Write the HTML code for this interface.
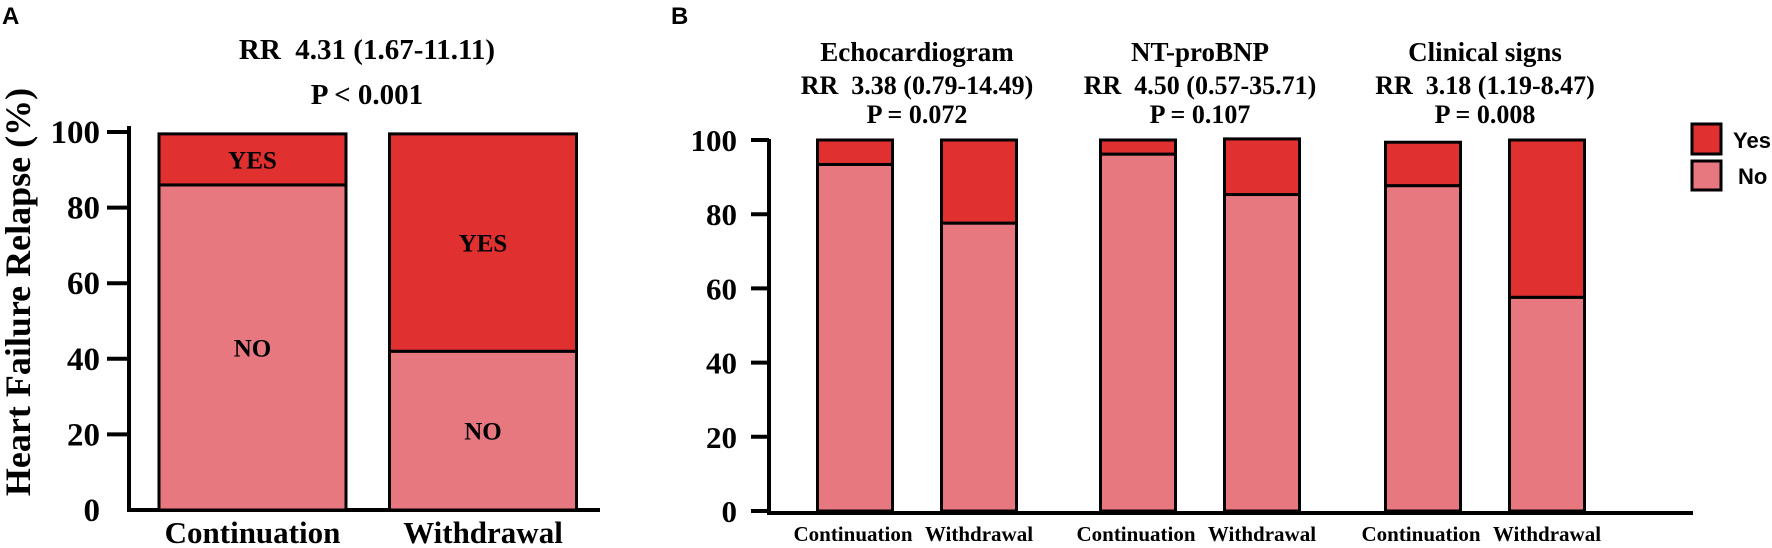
<!DOCTYPE html>
<html><head><meta charset="utf-8">
<style>
html,body{margin:0;padding:0;background:#fff;}
svg{display:block;}
.serif{font-family:"Liberation Serif",serif;font-weight:bold;fill:#000;white-space:pre;}
.sans{font-family:"Liberation Sans",sans-serif;font-weight:bold;fill:#000;}
</style></head>
<body>
<svg id="chart" width="1772" height="548" viewBox="0 0 1772 548">
<text class="sans" x="2" y="24" font-size="24">A</text>
<text class="sans" x="671" y="24" font-size="24">B</text>
<text class="serif" x="367" y="59" font-size="29" text-anchor="middle" xml:space="preserve">RR  4.31 (1.67-11.11)</text>
<text class="serif" x="367" y="104" font-size="29" text-anchor="middle">P &lt; 0.001</text>
<text class="serif" font-size="36" text-anchor="middle" transform="translate(30,292) rotate(-90)">Heart Failure Relapse (%)</text>
<g id="gA"></g>
<g id="gB"></g>
<g>
<rect x="1692" y="124" width="29" height="30" fill="#e03030" stroke="#000" stroke-width="3"/>
<text class="sans" x="1733" y="148" font-size="22">Yes</text>
<rect x="1692" y="161" width="29" height="29" fill="#e87880" stroke="#000" stroke-width="3"/>
<text class="sans" x="1738" y="184" font-size="22">No</text>
</g>
</svg>
<script>
// Panel A data
const aCategories = ["Continuation","Withdrawal"];
const aNo = [86, 42];
const aYes = [13.5, 57.5];
// Panel B data
const bGroups = ["Echocardiogram","NT-proBNP","Clinical signs"];
const bRR = ["RR  3.38 (0.79-14.49)","RR  4.50 (0.57-35.71)","RR  3.18 (1.19-8.47)"];
const bP = ["P = 0.072","P = 0.107","P = 0.008"];
const bCategories = ["Continuation","Withdrawal"];
const bNo = [93.4, 77.6, 96.2, 85.3, 87.7, 57.6];
const bYes = [6.6, 22.4, 3.8, 15.0, 11.7, 42.4];
const yTicks = [0,20,40,60,80,100];

const NS="http://www.w3.org/2000/svg";
const RED="#e03030", PINK="#e87880";
function mk(parent,tag,attrs,text){
  const e=document.createElementNS(NS,tag);
  for(const k in attrs) e.setAttribute(k,attrs[k]);
  if(text!==undefined) e.textContent=text;
  parent.appendChild(e); return e;
}
// ---- Panel A ----
const gA=document.getElementById('gA');
const aY0=510, aY100=132;
const ayA=v=>aY0-(aY0-aY100)*v/100;
const aCenters=[252.5,483];
const aW=187;
let ax=mk(gA,'line',{x1:129,y1:ayA(100)-6,x2:129,y2:aY0,stroke:'#000','stroke-width':4});


let axx=mk(gA,'line',{x1:127,y1:aY0,x2:600,y2:aY0,stroke:'#000','stroke-width':4});


yTicks.forEach(t=>{
  if(t>0){const tk=mk(gA,'line',{x1:107,y1:ayA(t),x2:129,y2:ayA(t),stroke:'#000','stroke-width':4});
  
  }
  const lb=mk(gA,'text',{class:'serif',x:100,y:ayA(t)+11,'font-size':33,'text-anchor':'end'},String(t));
  
  
});
aCategories.forEach((c,i)=>{
  const cx=aCenters[i], x=cx-aW/2;
  const yDiv=ayA(aNo[i]), yTop=ayA(aNo[i]+aYes[i]);
  const rn=mk(gA,'rect',{x:x,y:yDiv,width:aW,height:aY0-yDiv,fill:PINK,stroke:'#000','stroke-width':3});
  
  
  const ry=mk(gA,'rect',{x:x,y:yTop,width:aW,height:yDiv-yTop,fill:RED,stroke:'#000','stroke-width':3});
  
  
  const ty=mk(gA,'text',{class:'serif',x:cx,y:(yTop+yDiv)/2+9,'font-size':25,'text-anchor':'middle'},'YES');
  
  
  const tn=mk(gA,'text',{class:'serif',x:cx,y:(yDiv+aY0)/2+9,'font-size':25,'text-anchor':'middle'},'NO');
  
  
  const xl=mk(gA,'text',{class:'serif',x:cx,y:543,'font-size':31,'text-anchor':'middle'},c);
  
  
});
// ---- Panel B ----
const gB=document.getElementById('gB');
const bY0=511, bY100=140;
const ayB=v=>bY0-(bY0-bY100)*v/100;
const groupCenters=[917,1200,1485];
const pairOff=62, bW=75;
let bx=mk(gB,'line',{x1:769,y1:ayB(100)-1,x2:769,y2:bY0,stroke:'#000','stroke-width':4});


let bxx=mk(gB,'line',{x1:767,y1:bY0+2,x2:1693,y2:bY0+2,stroke:'#000','stroke-width':4});


yTicks.forEach(t=>{
  const tk=mk(gB,'line',{x1:751,y1:ayB(t),x2:769,y2:ayB(t),stroke:'#000','stroke-width':4});
  
  
  const lb=mk(gB,'text',{class:'serif',x:737,y:ayB(t)+11,'font-size':31,'text-anchor':'end'},String(t));
  
  
});
bGroups.forEach((g,gi)=>{
  const gc=groupCenters[gi];
  const t1=mk(gB,'text',{class:'serif',x:gc,y:61,'font-size':27,'text-anchor':'middle'},g);
  
  
  const t2=mk(gB,'text',{class:'serif',x:gc,y:94,'font-size':26,'text-anchor':'middle'},bRR[gi]);
  
  
  const t3=mk(gB,'text',{class:'serif',x:gc,y:123,'font-size':26,'text-anchor':'middle'},bP[gi]);
  
  
  bCategories.forEach((c,ci)=>{
    const k=gi*2+ci;
    const cx=gc+(ci===0?-pairOff:pairOff), x=cx-bW/2;
    const yDiv=ayB(bNo[k]), yTop=ayB(bNo[k]+bYes[k]);
    const rn=mk(gB,'rect',{x:x,y:yDiv,width:bW,height:bY0-yDiv,fill:PINK,stroke:'#000','stroke-width':3});
    
    
    const ry=mk(gB,'rect',{x:x,y:yTop,width:bW,height:yDiv-yTop,fill:RED,stroke:'#000','stroke-width':3});
    
    
    const xl=mk(gB,'text',{class:'serif',x:cx+(ci===0?-2:0),y:541,'font-size':21,'text-anchor':'middle'},c);
    
    
  });
});
</script>
</body></html>
